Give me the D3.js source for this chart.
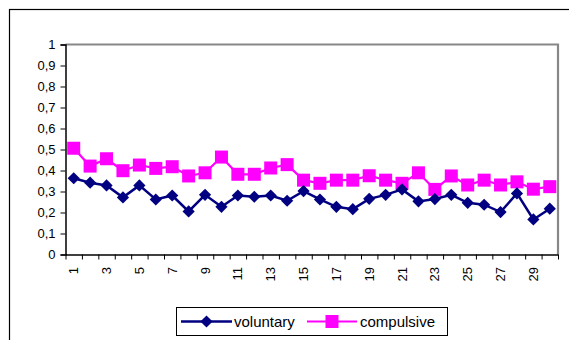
<!DOCTYPE html>
<html>
<head>
<meta charset="utf-8">
<script src="https://cdn.jsdelivr.net/npm/d3@7"></script>
<style>
  body { margin: 0; background: #fff; }
  text { font-family: "Liberation Sans", Arial, sans-serif; }
</style>
</head>
<body>
<script>
// Width and height
var w = 569;
var h = 340;

// categories on x axis
var categories = d3.range(1, 31);

// series values
var voluntary = [0.363, 0.342, 0.329, 0.272, 0.329, 0.262, 0.281, 0.205, 0.284, 0.227,
                 0.281, 0.275, 0.281, 0.256, 0.302, 0.262, 0.227, 0.216, 0.265, 0.284,
                 0.310, 0.253, 0.264, 0.284, 0.246, 0.237, 0.202, 0.291, 0.167, 0.218];
var compulsive = [0.506, 0.421, 0.456, 0.399, 0.426, 0.410, 0.418, 0.374, 0.389, 0.464,
                  0.382, 0.382, 0.412, 0.428, 0.354, 0.339, 0.354, 0.354, 0.375, 0.354,
                  0.339, 0.389, 0.310, 0.374, 0.331, 0.354, 0.331, 0.346, 0.311, 0.323];

// y tick values
var yTicks = [0, 0.1, 0.2, 0.3, 0.4, 0.5, 0.6, 0.7, 0.8, 0.9, 1];

// plot area edges (note: "top" is taken by window.top)
var plotL = 65.5, plotR = 558, plotT = 44.5, plotB = 254.5;

var svg = d3.select("body")
            .append("svg")
            .attr("width", w)
            .attr("height", h);

// outer chart frame (right and bottom fall outside the picture)
svg.append("rect")
   .attr("x", 9.5).attr("y", 9.5)
   .attr("width", w + 20).attr("height", h + 20)
   .attr("fill", "none").attr("stroke", "#000").attr("stroke-width", 1.2);

var x = d3.scaleBand()
    .domain(categories)
    .range([plotL, plotR]);

var xEdge = d3.scaleLinear()
    .domain([0, categories.length])
    .range([plotL, plotR]);

var y = d3.scaleLinear()
    .domain([0, 1])
    .range([plotB, plotT]);

// plot area border: gray top and right
svg.append("path")
   .attr("d", "M" + plotL + "," + plotT + "H" + plotR + "V" + plotB)
   .attr("fill", "none")
   .attr("stroke", "#888")
   .attr("stroke-width", 2.2);

// y axis
var yAxis = svg.append("g")
   .attr("transform", "translate(" + plotL + ",0)")
   .call(d3.axisLeft(y)
      .tickValues(yTicks)
      .tickSize(5)
      .tickPadding(5)
      .tickFormat(function(d) {
          if (d === 0) return "0";
          if (d === 1) return "1";
          return d3.format(".1f")(d).replace(".", ",");
      }));
yAxis.select(".domain").attr("stroke", "#000").attr("stroke-width", 1.5);
yAxis.selectAll("line").attr("stroke", "#000");
yAxis.selectAll("text").style("font-size", "13px").attr("fill", "#000");

// x axis tick marks at category edges
var xTickAxis = svg.append("g")
   .attr("transform", "translate(0," + plotB + ")")
   .call(d3.axisBottom(xEdge)
      .tickValues(d3.range(0, categories.length + 1))
      .tickSize(5)
      .tickSizeOuter(0)
      .tickFormat(""));
xTickAxis.select(".domain").attr("stroke", "#000").attr("stroke-width", 1.5);
xTickAxis.selectAll("line").attr("stroke", "#000");

// x labels on odd categories, rotated
svg.append("g")
   .selectAll("text")
   .data(categories.filter(function(d) { return d % 2 === 1; }))
   .enter()
   .append("text")
   .text(function(d) { return d; })
   .attr("transform", function(d) {
       return "translate(" + (x(d) + x.bandwidth() / 2) + ",267) rotate(-90)";
   })
   .attr("text-anchor", "end")
   .attr("dy", "0.35em")
   .style("font-size", "13px")
   .attr("fill", "#000");

var line = d3.line()
    .x(function(d, i) { return x(categories[i]) + x.bandwidth() / 2; })
    .y(function(d) { return y(d); });

// compulsive series
svg.append("path")
   .datum(compulsive)
   .attr("d", line)
   .attr("fill", "none")
   .attr("stroke", "#ff00ff")
   .attr("stroke-width", 2.2);

svg.selectAll("rect.sq")
   .data(compulsive)
   .enter()
   .append("rect")
   .attr("class", "sq")
   .attr("x", function(d, i) { return x(categories[i]) + x.bandwidth() / 2 - 6.5; })
   .attr("y", function(d) { return y(d) - 6.5; })
   .attr("width", 13)
   .attr("height", 13)
   .attr("fill", "#ff00ff");

// voluntary series
svg.append("path")
   .datum(voluntary)
   .attr("d", line)
   .attr("fill", "none")
   .attr("stroke", "#000080")
   .attr("stroke-width", 2.5);

var diamond = d3.symbol().type(d3.symbolDiamond2).size(95);

svg.selectAll("path.dm")
   .data(voluntary)
   .enter()
   .append("path")
   .attr("class", "dm")
   .attr("d", diamond)
   .attr("transform", function(d, i) {
       return "translate(" + (x(categories[i]) + x.bandwidth() / 2) + "," + y(d) + ")";
   })
   .attr("fill", "#000080");

// legend
var legend = svg.append("g");
legend.append("rect")
   .attr("x", 176.5).attr("y", 307.5)
   .attr("width", 271).attr("height", 28)
   .attr("fill", "#fff").attr("stroke", "#000").attr("stroke-width", 1);

var ly = 321.5;
legend.append("line")
   .attr("x1", 181).attr("x2", 232).attr("y1", ly).attr("y2", ly)
   .attr("stroke", "#000080").attr("stroke-width", 2.5);
legend.append("path")
   .attr("d", diamond)
   .attr("transform", "translate(206.5," + ly + ")")
   .attr("fill", "#000080");
legend.append("text")
   .text("voluntary")
   .attr("x", 234).attr("y", ly).attr("dy", "0.35em")
   .style("font-size", "15px");

legend.append("line")
   .attr("x1", 307).attr("x2", 357).attr("y1", ly).attr("y2", ly)
   .attr("stroke", "#ff00ff").attr("stroke-width", 2.2);
legend.append("rect")
   .attr("x", 325.5).attr("y", ly - 6.5)
   .attr("width", 13).attr("height", 13)
   .attr("fill", "#ff00ff");
legend.append("text")
   .text("compulsive")
   .attr("x", 360).attr("y", ly).attr("dy", "0.35em")
   .style("font-size", "15px");
</script>
</body>
</html>
